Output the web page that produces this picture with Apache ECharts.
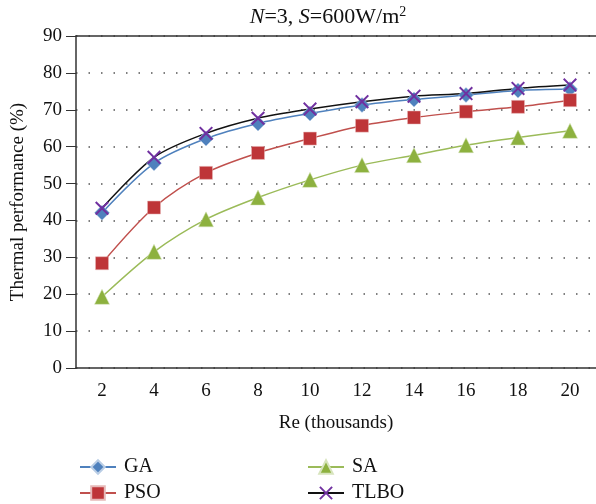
<!DOCTYPE html>
<html><head><meta charset="utf-8">
<script src="https://cdn.jsdelivr.net/npm/echarts@6/dist/echarts.min.js"></script>
<style>html,body{margin:0;padding:0;background:#fff}#c{width:596px;height:504px}</style>
</head><body><div id="c"></div>
<script>
const categories = ['2','4','6','8','10','12','14','16','18','20'];
const yTicks = [0,10,20,30,40,50,60,70,80,90];
const GA   = [42.1, 55.5, 62.2, 66.3, 69.0, 71.3, 72.8, 74.0, 75.2, 75.6];
const PSO  = [28.4, 43.5, 52.9, 58.3, 62.2, 65.7, 67.9, 69.5, 70.8, 72.6];
const SA   = [19.3, 31.5, 40.3, 46.2, 51.0, 55.0, 57.7, 60.4, 62.5, 64.3];
const TLBO = [43.3, 57.1, 63.6, 67.7, 70.2, 72.2, 73.7, 74.4, 75.8, 76.7];

const FONT = 'Liberation Serif';
const crossPath = 'path://M0,1L1,0L5,4L9,0L10,1L6,5L10,9L9,10L5,6L1,10L0,9L4,5Z';
const chart = echarts.init(document.getElementById('c'));
const txt = {fontFamily: FONT, fontSize: 19, color: '#111'};
const legTxt = {fontFamily: FONT, fontSize: 20, color: '#111', padding: [0,0,0,3]};
function leg(name, left, top) {
  return {data: [name], left: left, top: top, itemWidth: 36, itemHeight: 17, textStyle: legTxt, selectedMode: false};
}
chart.setOption({
  animation: false,
  title: {
    text: '{i|N}=3, {i|S}=600W/m{s|2}',
    left: 323, top: 0, textAlign: 'center',
    textStyle: {fontFamily: FONT, fontSize: 22, fontWeight: 'normal', color: '#111',
      rich: {i: {fontFamily: FONT, fontSize: 22, fontStyle: 'italic', color: '#111'},
             s: {fontFamily: FONT, fontSize: 14, verticalAlign: 'top', color: '#111', padding: [0,0,10,0]}}}
  },
  grid: {left: 76, right: 0, top: 36, bottom: 136, outerBoundsMode: 'none', containLabel: false},
  legend: [leg('GA', 74, 452), leg('PSO', 74, 478), leg('SA', 302, 452), leg('TLBO', 302, 478)],
  xAxis: [{
    type: 'category', data: categories,
    name: 'Re (thousands)', nameLocation: 'middle', nameGap: 46, nameTextStyle: txt,
    axisLine: {lineStyle: {color: '#333', width: 1.5}},
    axisTick: {alignWithLabel: true, length: 8, lineStyle: {color: '#333'}},
    axisLabel: {...txt, margin: 14},
    splitLine: {show: false}
  }, {
    type: 'category', data: categories, position: 'top',
    axisLine: {lineStyle: {color: '#333', width: 1.5}}, axisTick: {show: false}, axisLabel: {show: false}
  }],
  yAxis: {
    type: 'value', min: 0, max: 90, interval: 10,
    name: 'Thermal performance (%)', nameLocation: 'middle', nameGap: 48, nameTextStyle: txt,
    axisLine: {show: true, lineStyle: {color: '#333', width: 1.5}},
    axisTick: {show: true, inside: false, length: 10, lineStyle: {color: '#333'}},
    axisLabel: {...txt, margin: 14, formatter: v => yTicks.includes(v) ? String(v) : ''},
    splitLine: {show: true, lineStyle: {color: '#555', type: [1.5, 11], width: 1.5}}
  },
  series: [
    {name: 'GA', type: 'line', data: GA, smooth: 0.3, symbol: 'diamond', symbolSize: 15,
      lineStyle: {color: '#4F81BD', width: 1.5}, itemStyle: {color: '#4F81BD', borderColor: '#b9cde5', borderWidth: 0.5}},
    {name: 'PSO', type: 'line', data: PSO, smooth: 0.3, symbol: 'rect', symbolSize: 13,
      lineStyle: {color: '#C0504D', width: 1.5}, itemStyle: {color: '#BE3538', borderColor: '#e6b9b8', borderWidth: 0.5}},
    {name: 'SA', type: 'line', data: SA, smooth: 0.3, symbol: 'triangle', symbolSize: 15,
      lineStyle: {color: '#9BBB59', width: 1.5}, itemStyle: {color: '#8DB13F', borderColor: '#d7e4bd', borderWidth: 0.5}},
    {name: 'TLBO', type: 'line', data: TLBO, smooth: 0.3, symbol: crossPath, symbolSize: 14,
      lineStyle: {color: '#111', width: 1.5}, itemStyle: {color: '#7030A0'}}
  ]
});
</script></body></html>
